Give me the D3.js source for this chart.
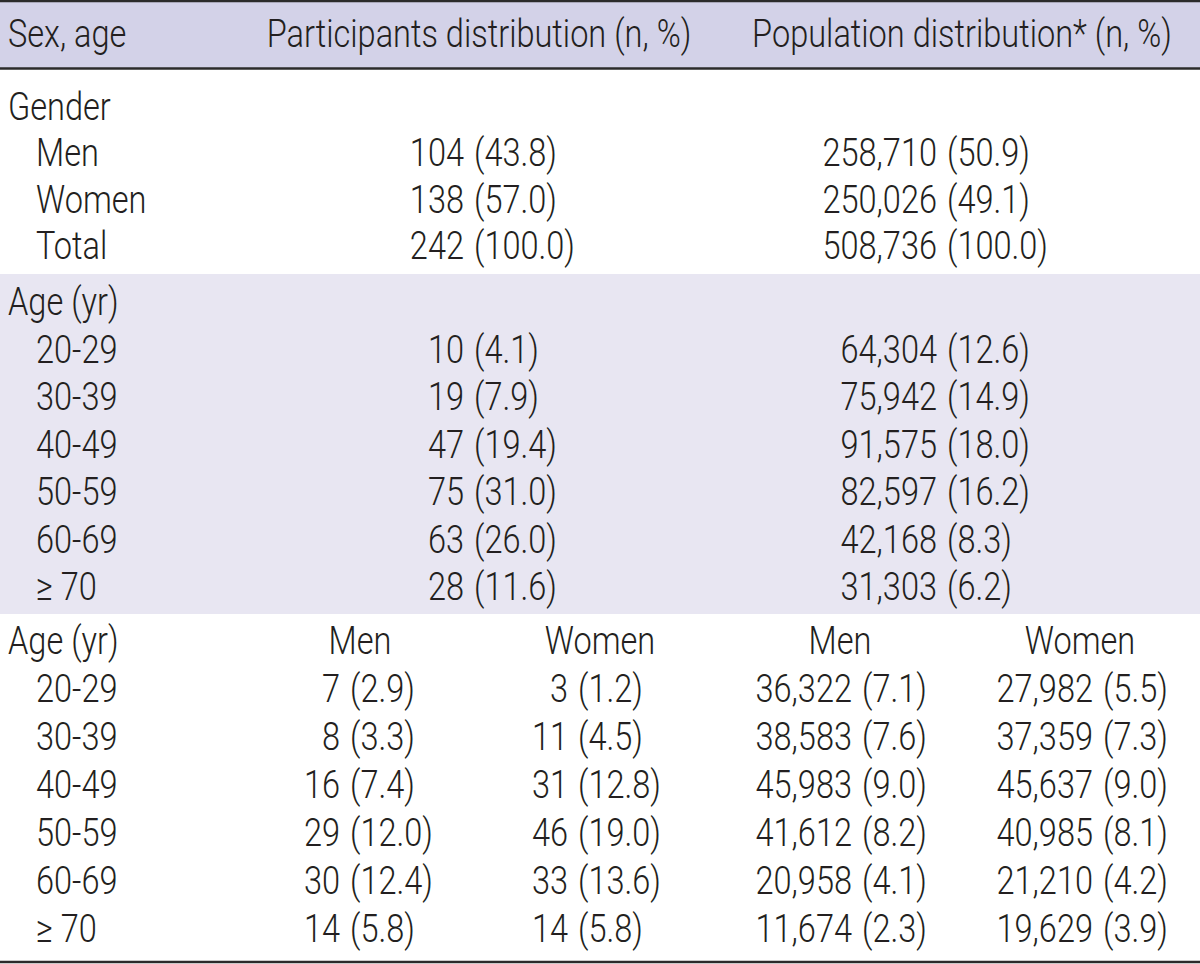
<!DOCTYPE html>
<html>
<head>
<meta charset="utf-8">
<script src="https://cdn.jsdelivr.net/npm/d3@7"></script>
<style>
  html, body { margin: 0; padding: 0; background: #ffffff; }
  svg { display: block; }
  text { font-family: Roboto, "Liberation Sans", Arial, sans-serif; font-weight: 300; fill: #231f20; }
</style>
</head>
<body>
<svg id="chart" width="1200" height="964"></svg>
<script>
// ---------- data ----------
const headers = ["Sex, age", "Participants distribution (n, %)", "Population distribution* (n, %)"];
const sectionTitles = ["Gender", "Age (yr)", "Age (yr)"];
const subHeaders = ["Men", "Women", "Men", "Women"];

const genderLabels = ["Men", "Women", "Total"];
const genderPartN   = [104, 138, 242];
const genderPartPct = [43.8, 57.0, 100.0];
const genderPopN    = [258710, 250026, 508736];
const genderPopPct  = [50.9, 49.1, 100.0];

const ageGroups = ["20-29", "30-39", "40-49", "50-59", "60-69", "\u2265 70"];
const agePartN   = [10, 19, 47, 75, 63, 28];
const agePartPct = [4.1, 7.9, 19.4, 31.0, 26.0, 11.6];
const agePopN    = [64304, 75942, 91575, 82597, 42168, 31303];
const agePopPct  = [12.6, 14.9, 18.0, 16.2, 8.3, 6.2];

const menPartN     = [7, 8, 16, 29, 30, 14];
const menPartPct   = [2.9, 3.3, 7.4, 12.0, 12.4, 5.8];
const womenPartN   = [3, 11, 31, 46, 33, 14];
const womenPartPct = [1.2, 4.5, 12.8, 19.0, 13.6, 5.8];
const menPopN      = [36322, 38583, 45983, 41612, 20958, 11674];
const menPopPct    = [7.1, 7.6, 9.0, 8.2, 4.1, 2.3];
const womenPopN    = [27982, 37359, 45637, 40985, 21210, 19629];
const womenPopPct  = [5.5, 7.3, 9.0, 8.1, 4.2, 3.9];

// ---------- layout ----------
const W = 1200, H = 964;
const FS = 38;
const svg = d3.select("#chart");
const fmtN = d3.format(",");
const fmtP = d3.format(".1f");

// background bands
const bands = [
  {y0: 1, y1: 68, fill: "#d3d2e8"},
  {y0: 274, y1: 614, fill: "#e8e6f2"}
];
svg.selectAll("rect.band").data(bands).join("rect")
  .attr("class", "band")
  .attr("x", 0).attr("width", W)
  .attr("y", d => d.y0).attr("height", d => d.y1 - d.y0)
  .attr("fill", d => d.fill);

// rule lines
const rules = [{y: 1, w: 2.5}, {y: 68.5, w: 2.5}, {y: 962, w: 2.5}];
svg.selectAll("line.rule").data(rules).join("line")
  .attr("class", "rule")
  .attr("x1", 0).attr("x2", W)
  .attr("y1", d => d.y).attr("y2", d => d.y)
  .attr("stroke", "#2b2b2b").attr("stroke-width", d => d.w);

const g = svg.append("g");

// horizontal compression factor to mimic condensed type
const probe = g.append("text").style("font-size", FS + "px").text(headers[2]);
const natural = probe.node().getComputedTextLength();
probe.remove();
const K = 420 / natural;

function put(x, y, str, anchor) {
  g.append("text")
    .attr("transform", `translate(${x},${y}) scale(${K},1)`)
    .attr("text-anchor", anchor || "start")
    .style("font-size", FS + "px")
    .text(str);
}
const GAP = 10;
function pair(x, y, n, p) {
  put(x, y, fmtN(n), "end");
  put(x + GAP, y, "(" + fmtP(p) + ")", "start");
}

// row scales (index -> baseline)
const yS1 = d3.scaleLinear().domain([0, 3]).range([120, 259]);
const yS2 = d3.scaleLinear().domain([0, 6]).range([315, 600]);
const yS3 = d3.scaleLinear().domain([0, 6]).range([654, 942]);

// column scales
const xLabel = d3.scaleOrdinal().domain([0, 1]).range([8, 36]);
const xCol2 = d3.scaleOrdinal().domain(["part", "pop"]).range([464, 937]);
const xCol4 = d3.scaleOrdinal().domain(["partMen", "partWomen", "popMen", "popWomen"]).range([340, 568, 852, 1093]);
const xSub = d3.scaleOrdinal().domain(["partMen", "partWomen", "popMen", "popWomen"]).range([360, 600, 840, 1080]);

// header
put(xLabel(0), 47, headers[0]);
put(479, 47, headers[1], "middle");
put(962, 47, headers[2], "middle");

// section 1: gender
put(xLabel(0), yS1(0), sectionTitles[0]);
genderLabels.forEach((lab, i) => {
  const y = yS1(i + 1);
  put(xLabel(1), y, lab);
  pair(xCol2("part"), y, genderPartN[i], genderPartPct[i]);
  pair(xCol2("pop"), y, genderPopN[i], genderPopPct[i]);
});

// section 2: age
put(xLabel(0), yS2(0), sectionTitles[1]);
ageGroups.forEach((lab, i) => {
  const y = yS2(i + 1);
  put(xLabel(1), y, lab);
  pair(xCol2("part"), y, agePartN[i], agePartPct[i]);
  pair(xCol2("pop"), y, agePopN[i], agePopPct[i]);
});

// section 3: age by sex
put(xLabel(0), yS3(0), sectionTitles[2]);
xSub.domain().forEach((k, j) => put(xSub(k), yS3(0), subHeaders[j], "middle"));
ageGroups.forEach((lab, i) => {
  const y = yS3(i + 1);
  put(xLabel(1), y, lab);
  pair(xCol4("partMen"), y, menPartN[i], menPartPct[i]);
  pair(xCol4("partWomen"), y, womenPartN[i], womenPartPct[i]);
  pair(xCol4("popMen"), y, menPopN[i], menPopPct[i]);
  pair(xCol4("popWomen"), y, womenPopN[i], womenPopPct[i]);
});
</script>
</body>
</html>
